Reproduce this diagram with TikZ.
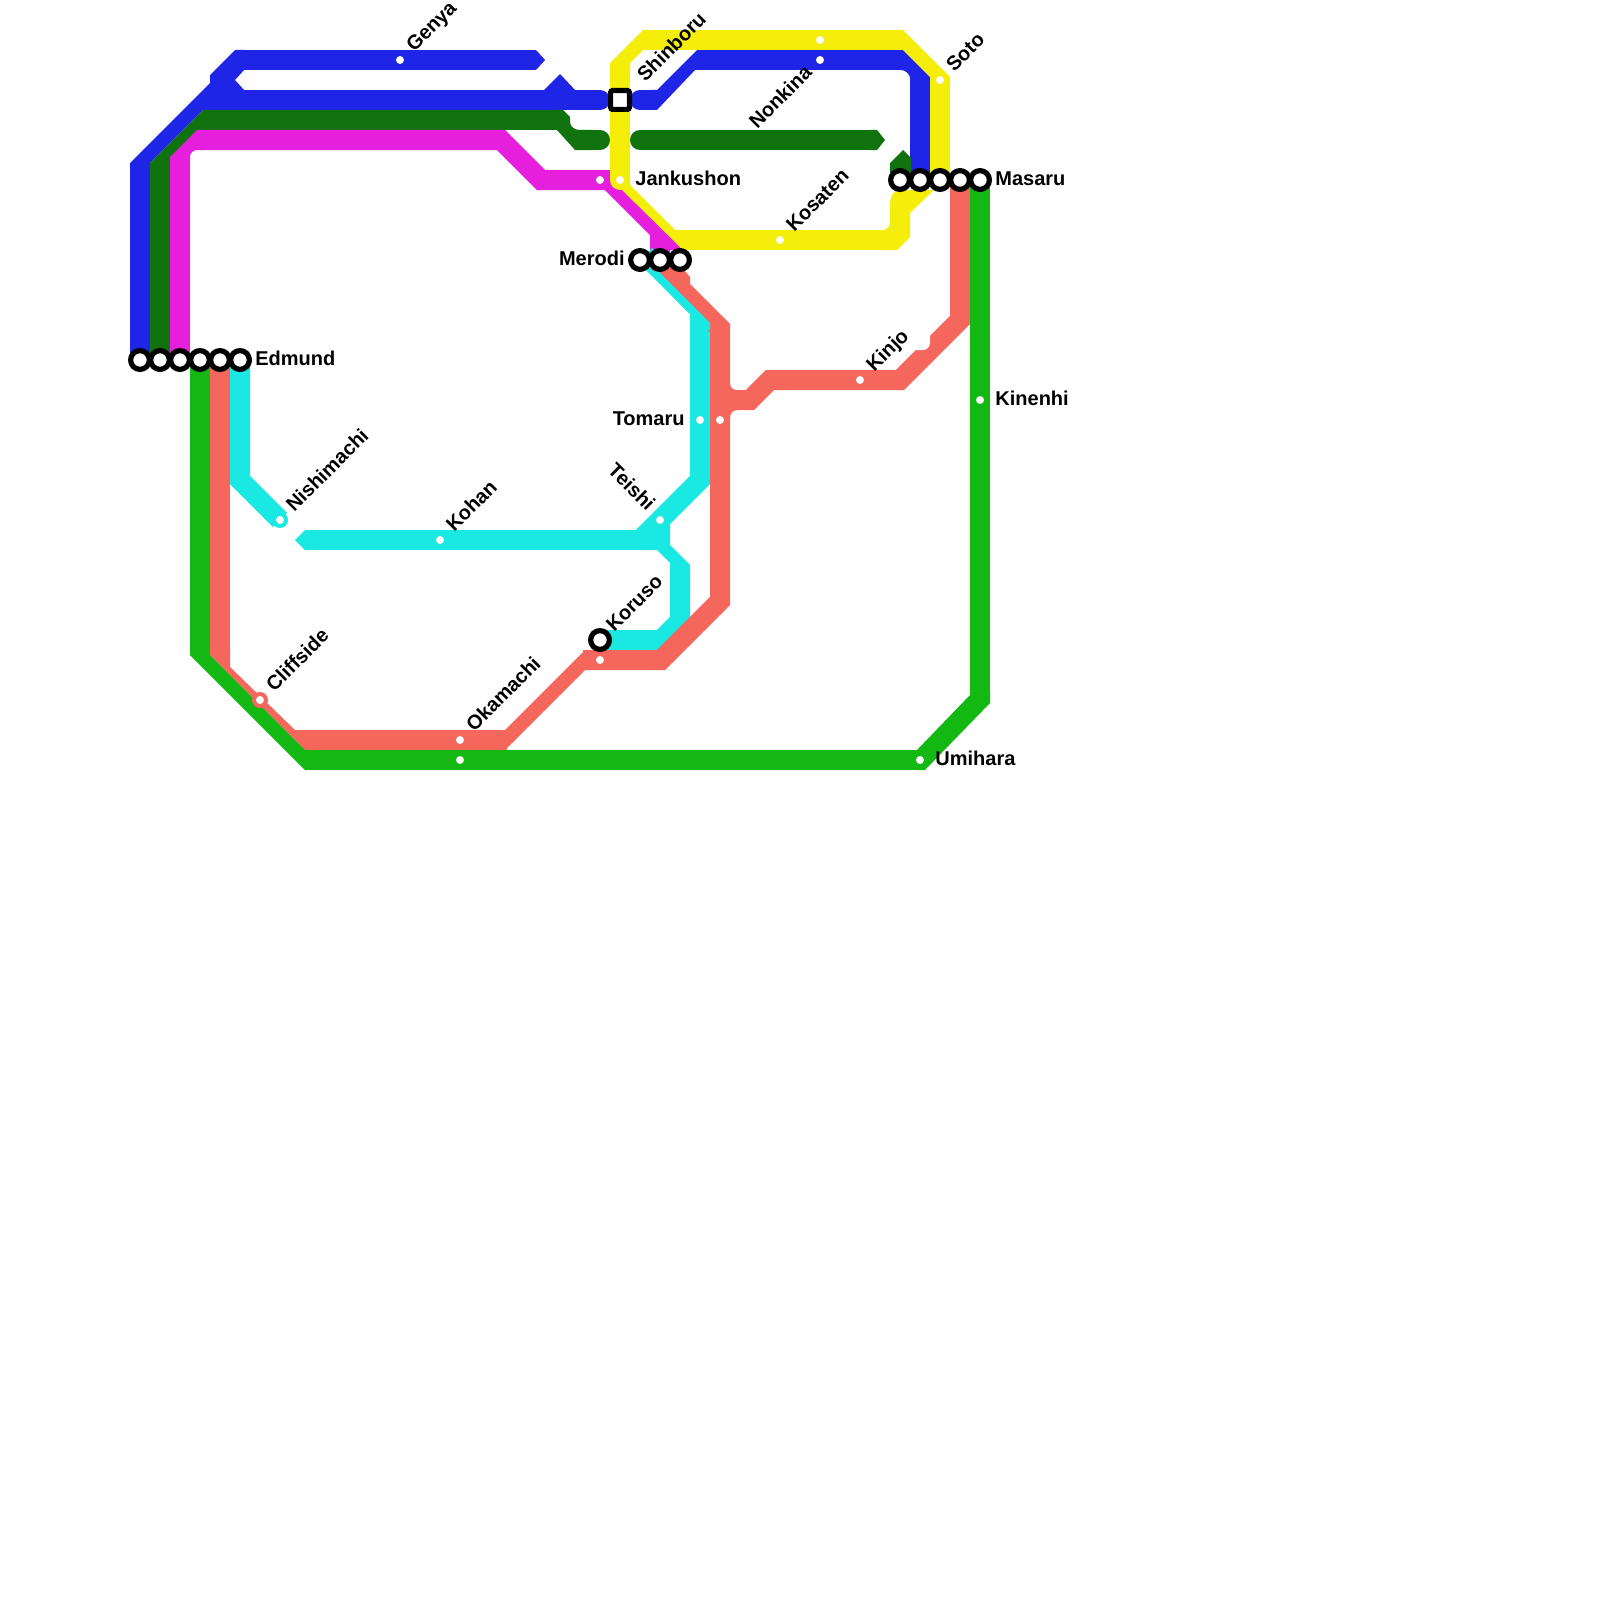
\documentclass[tikz,border=0pt]{standalone}
\usepackage{fontspec}
\setmainfont{Liberation Sans}
\definecolor{lblue}{HTML}{1F25E6}
\definecolor{lgreen}{HTML}{10730E}
\definecolor{lmag}{HTML}{E61FDD}
\definecolor{lyel}{HTML}{F5EE0A}
\definecolor{lred}{HTML}{F5665C}
\definecolor{lcyan}{HTML}{19E8E3}
\definecolor{lbright}{HTML}{14B812}
\tikzset{
  seg/.style={line width=10pt,line cap=butt,line join=miter},
  rseg/.style={line width=10pt,line cap=round,line join=miter},
  ring/.style={circle,draw=black,fill=white,line width=2.6pt,minimum size=9.4pt,inner sep=0pt},
  sq/.style={rectangle,rounded corners=1pt,draw=black,fill=white,line width=2.6pt,minimum size=9.4pt,inner sep=0pt},
  dot/.style={circle,fill=white,minimum size=4pt,inner sep=0pt},
  lab/.style={font=\fontsize{10pt}{12pt}\selectfont\bfseries,text=black,inner sep=0pt},
  up/.style={lab,rotate=45,anchor=base west},
}
\begin{document}
\begin{tikzpicture}[x=0.5pt,y=-0.5pt]
\useasboundingbox (0,0) rectangle (1600,1600);
% stations as coordinates first
\foreach \n/\x in {e1/140,e2/160,e3/180,e4/200,e5/220,e6/240}{\coordinate (\n) at (\x,360);}
\foreach \n/\x in {m1/900,m2/920,m3/940,m4/960,m5/980}{\coordinate (\n) at (\x,180);}
\foreach \n/\x in {r1/640,r2/660,r3/680}{\coordinate (\n) at (\x,260);}
% BLUE
\coordinate (b1) at (140,163);
\draw[seg,lblue] (e1)--(b1);
\fill[lblue] (130,165)--(130,163)--(210,83)--(210,75)--(235,50)--(246,50)--(246,70)--(244,70)--(235,80)--(244,90)--(246,90)--(246,110)--(203,110)--(150,163)--(150,165)--cycle;
\coordinate (b2) at (245,60); \coordinate (b3) at (536,60);
\draw[seg,lblue] (b2)--(b3);
\fill[lblue] (535,50)--(536,50)--(545,60)--(536,70)--(535,70)--cycle;
\coordinate (b4) at (245,100); \coordinate (b5) at (600,100);
\draw[rseg,lblue] (b4)--(b5);
\fill[lblue] (543,91)--(560,74)--(576,91)--cycle;
\coordinate (b6) at (640,100); \coordinate (b7) at (650,100);
\draw[rseg,lblue] (b6)--(b7);
\fill[lblue] (650,90)--(657,90)--(697,50)--(705,50)--(705,70)--(695,70)--(657,110)--(650,110)--cycle;
\coordinate (b8) at (703,60); \coordinate (b9) at (899,60); \coordinate (b10) at (920,84);
\draw[seg,lblue] (b8)--(b9);
\fill[lblue] (895,50)--(903,50)--(930,77)--(930,86)--(910,86)--(910,78) .. controls (910,74) and (905,70) .. (901,70)--(895,70)--cycle;
\draw[seg,lblue] (b10)--(m2);
% GREEN (dark)
\coordinate (g1) at (160,163);
\draw[seg,lgreen] (e2)--(g1);
\fill[lgreen] (150,165)--(150,163)--(203,110)--(210,110)--(210,130)--(190,150)--(170,170)--(170,165)--cycle;
\coordinate (g2) at (205,120); \coordinate (g3) at (560,120);
\draw[seg,lgreen] (g2)--(g3);
\fill[lgreen] (555,110)--(563,110)--(570,117)--(570,122) .. controls (570,127) and (575,130) .. (580,130)--(592,130)--(592,150)--(575,150)--(557,130)--(555,130)--cycle;
\coordinate (g4) at (590,140); \coordinate (g5) at (600,140);
\draw[rseg,lgreen] (g4)--(g5);
\coordinate (g6) at (640,140); \coordinate (g7) at (872,140);
\draw[rseg,lgreen] (g6)--(g7);
\fill[lgreen] (870,130)--(877,130)--(885,140)--(877,150)--(870,150)--cycle;
\fill[lgreen] (890,163)--(903,150)--(911,158)--(911,182)--(890,182)--cycle;
% MAGENTA
\coordinate (p1) at (180,157);
\draw[seg,lmag] (e3)--(p1);
\fill[lmag] (170,159)--(170,157)--(197,130)--(202,130)--(202,150)--(197,150) .. controls (193,150) and (190,153) .. (190,157)--(190,159)--cycle;
\coordinate (p2) at (200,140); \coordinate (p3) at (501,140); \coordinate (p4) at (541,180); \coordinate (p5) at (609,180); \coordinate (p6) at (660,231);
\draw[seg,lmag] (p2)--(p3)--(p4)--(p5)--(p6)--(r2);
\fill[lmag] (650,233)--(650,250)--(686,250)--(660,222)--cycle;
% YELLOW
\coordinate (y0) at (620,180); \coordinate (y1) at (620,63);
\draw[line width=10pt,line cap=round,lyel] (y0)--(620,70);
\fill[lyel] (610,70)--(610,63)--(643,30)--(650,30)--(650,50)--(643,50)--(630,63)--(630,70)--cycle;
\coordinate (y2) at (648,40); \coordinate (y3) at (899,40); \coordinate (y4) at (940,82);
\draw[seg,lyel] (y2)--(y3);
\fill[lyel] (895,30)--(903,30)--(950,77)--(950,84)--(930,84)--(930,77)--(903,50)--(895,50)--cycle;
\draw[seg,lyel] (y4)--(m3);
\fill[lyel] (890,205) .. controls (890,197) and (893,190) .. (900,190)--(934,190)--(910,213)--(910,237)--(897,250)--(878,250)--(878,230)--(882,230) .. controls (887,230) and (890,227) .. (890,222)--cycle;
\coordinate (y5) at (880,240); \coordinate (y6) at (680,240);
\draw[seg,lyel] (y5)--(y6);
\fill[lyel] (630,180)--(630,185)--(675,230)--(690,230)--(690,250)--(683,250)--(620,188)--(620,170)--cycle;
% RED (coral)
\coordinate (c1) at (220,652);
\draw[seg,lred] (e5)--(c1);
\fill[lred] (210,650)--(210,655)--(305,750)--(305,730)--(295,730)--(230,667)--(230,650)--cycle;
\coordinate (c2) at (300,740); \coordinate (c3) at (507,740);
\draw[seg,lred] (c2)--(c3);
\fill[lred] (505,730)--(585,650)--(585,670)--(505,750)--cycle;
\coordinate (c4) at (583,660); \coordinate (c5) at (661,660); \coordinate (c6) at (720,601); \coordinate (c7) at (720,328); \coordinate (c8) at (664,272);
% CYAN under coral
\coordinate (t0) at (645,255); \coordinate (t1) at (700,310); \coordinate (t2) at (700,480); \coordinate (t3) at (640,540);
\draw[seg,lcyan] (t0)--(t1)--(t2)--(t3);
\coordinate (t4) at (305,540);
\draw[seg,lcyan] (t4)--(t3)--(652,540);
\fill[lcyan] (305,530)--(295,540)--(305,550)--(307,550)--(307,530)--cycle;
\fill[lcyan] (640,530)--(660,530)--(670,523)--(670,545)--(690,565)--(690,572)--(670,572)--(670,563)--(657,550)--(640,550)--cycle;
\coordinate (t5) at (680,570); \coordinate (t6) at (680,621); \coordinate (t7) at (661,640); \coordinate (t8) at (600,640);
\draw[seg,lcyan] (t5)--(t6)--(t7)--(t8);
\coordinate (t9) at (240,480); \coordinate (t10) at (280,520);
\draw[seg,lcyan] (e6)--(t9)--(t10);
\fill[lcyan] (255,508)--(257,510)--(263,510)--(273,520)--(267,520)--cycle;
% coral rest
\draw[seg,lred] (c4)--(c5)--(c6)--(c7)--(c8);
\fill[lred] (652,262)--(684,270)--(690,277)--(690,285)--(700,296)--(680,296)--(652,272)--cycle;
\coordinate (c9) at (720,400); \coordinate (c10) at (750,400); \coordinate (c11) at (770,380); \coordinate (c12) at (900,380); \coordinate (c13) at (960,320);
\draw[seg,lred] (c9)--(c10)--(c11)--(c12)--(c13)--(m4);
\fill[white] (915,350)--(930,335)--(930,342) .. controls (930,347) and (927,350) .. (923,350)--cycle;
\fill[lred] (730,383) .. controls (730,388) and (733,390) .. (738,390)--(728,392)--cycle;
\fill[lred] (730,418) .. controls (730,413) and (733,410) .. (738,410)--(728,408)--cycle;
% cyan strip over coral
\fill[lcyan] (647,270)--(690,314)--(690,330)--(710,330)--(710,323)--(658,271)--cycle;
% BRIGHT GREEN
\coordinate (v1) at (200,655);
\draw[seg,lbright] (e4)--(v1);
\fill[lbright] (190,652)--(190,655)--(305,770)--(307,770)--(307,750)--(305,750)--(210,655)--(210,652)--cycle;
\coordinate (v2) at (305,760); \coordinate (v3) at (920,760); \coordinate (v4) at (980,695);
\draw[seg,lbright] (v2)--(v3);
\fill[lbright] (917,750)--(970,695)--(970,692)--(990,692)--(990,703)--(925,770)--(917,770)--cycle;
\draw[seg,lbright] (v4)--(m5);
% station marks
\foreach \n in {e1,e2,e3,e4,e5,e6,m1,m2,m3,m4,m5,r1,r2,r3}{\node[ring] at (\n) {};}
\node[sq] (shin) at (620,100) {};
\node[ring] (kor) at (600,640) {};
\fill[lcyan] (t10) circle (4pt);
\fill[lred] (260,700) circle (4pt);
\node[dot] (nis) at (t10) {};
\node[dot] (cli) at (260,700) {};
\node[dot] (gen) at (400,60) {};
\node[dot] (koh) at (440,540) {};
\node[dot] (oka) at (460,740) {};
\node[dot] (oka2) at (460,760) {};
\node[dot] (kin) at (860,380) {};
\node[dot] (ken) at (980,400) {};
\node[dot] (umi) at (920,760) {};
\node[dot] (tom) at (700,420) {};
\node[dot] (tom2) at (720,420) {};
\node[dot] (tei) at (660,520) {};
\node[dot] (kos) at (780,240) {};
\node[dot] (non) at (820,40) {};
\node[dot] (non2) at (820,60) {};
\node[dot] (sot) at (940,80) {};
\node[dot] (jan) at (620,180) {};
\node[dot] (jan2) at (600,180) {};
\node[dot] (kor2) at (600,660) {};
% labels
\node[lab,anchor=base west] (lEdmund) at (255,365) {Edmund};
\node[lab,anchor=base west] (lMasaru) at (995,185) {Masaru};
\node[lab,anchor=base west] (lJank) at (635,185) {Jankushon};
\node[lab,anchor=base west] (lKin) at (995,405) {Kinenhi};
\node[lab,anchor=base west] (lUmi) at (935,765) {Umihara};
\node[lab,anchor=base east] (lMer) at (625,265) {Merodi};
\node[lab,anchor=base east] (lTom) at (685,425) {Tomaru};
\node[up] (lGen) at ([shift={(14,-7)}]gen) {Genya};
\node[up] (lKoh) at ([shift={(14,-7)}]koh) {Kohan};
\node[up] (lOka) at ([shift={(14,-7)}]oka) {Okamachi};
\node[up] (lNis) at ([shift={(14,-7)}]nis) {Nishimachi};
\node[up] (lCli) at ([shift={(14,-7)}]cli) {Cliffside};
\node[up] (lKinj) at ([shift={(14,-7)}]kin) {Kinjo};
\node[up] (lKos) at ([shift={(14,-7)}]kos) {Kosaten};
\node[up] (lNon) at ([shift={(-63,70)}]non2) {Nonkina};
\node[up] (lSot) at ([shift={(14,-7)}]sot) {Soto};
\node[up] (lShi) at ([shift={(25,-17)}]shin) {Shinboru};
\node[up] (lKor) at ([shift={(14,-7)}]kor) {Koruso};
\node[lab,rotate=-45,anchor=base east] (lTei) at ([shift={(-13,-8)}]tei) {Teishi};
\end{tikzpicture}
\end{document}
